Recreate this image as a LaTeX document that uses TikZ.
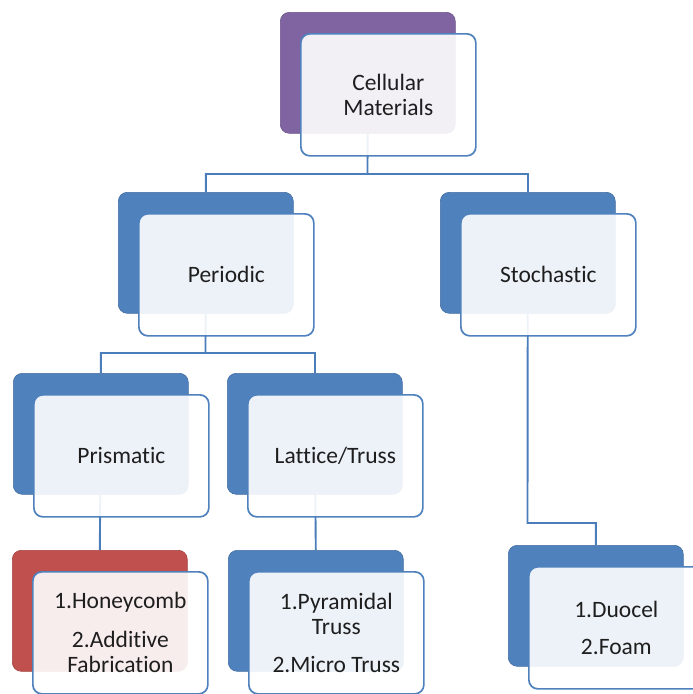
\documentclass[tikz,border=0pt]{standalone}
\usepackage{fontspec}
\setmainfont{Carlito}[Ligatures=NoCommon]
\pgfdeclarelayer{background}
\pgfsetlayers{background,main}
\definecolor{sblue}{HTML}{4F81BD}
\definecolor{spurple}{HTML}{8064A2}
\definecolor{sred}{HTML}{C0504D}
\definecolor{cblue}{HTML}{4A7DBA}
\definecolor{txt}{HTML}{1E1E1E}
\begin{document}
\begin{tikzpicture}[x=1pt,y=-1pt,
  back/.style={draw=#1!85!black, line width=0.6pt, fill=#1, rounded corners=9pt,
    minimum width=175pt, minimum height=121pt, anchor=north west, inner sep=0pt},
  front/.style={draw=sblue, line width=1.7pt, fill=white, fill opacity=0.9, text opacity=1,
    rounded corners=9pt, minimum width=175pt, minimum height=122pt, anchor=north west,
    inner sep=0pt, align=center, font=\fontsize{23.5}{25.5}\selectfont, text=txt},
  conn/.style={draw=cblue, line width=1.9pt}]
\useasboundingbox (0,0) rectangle (693,694);
\clip (0,0) rectangle (693,694);
% back boxes
\node[back=spurple] (cB) at (280,12) {};
\node[back=sblue] (pB) at (118,192) {};
\node[back=sblue] (sB) at (440,192) {};
\node[back=sblue] (prB) at (13,373) {};
\node[back=sblue] (lB) at (227,373) {};
\node[back=sred] (hB) at (12,550) {};
\node[back=sblue] (yB) at (228,550) {};
\node[back=sblue] (dB) at (508,545) {};
% front boxes
\node[front] (cF) at (300,33) {Cellular\\Materials};
\node[front] (pF) at (138,213) {Periodic};
\node[front] (sF) at (460,213) {Stochastic};
\node[front] (prF) at (33,394) {Prismatic};
\node[front] (lF) at (247,394) {Lattice/Truss};
\node[front] (hF) at (32,571) {1.Honeycomb\\[13pt]2.Additive\\Fabrication};
\node[front] (yF) at (248,571) {1.Pyramidal\\Truss\\[12pt]2.Micro Truss};
\node[front] (dF) at (528,566) {1.Duocel\\[12pt]2.Foam};
% connectors
\coordinate (j1) at (367.5,174);
\coordinate (j2) at (205.5,353);
\coordinate (j3) at (527.5,523);
\begin{pgfonlayer}{background}
\draw[conn] (cB.center) -- (j1) -| (pB.north);
\draw[conn] (j1) -| (sB.north);
\draw[conn] (pB.center) -- (j2) -| (prB.north);
\draw[conn] (j2) -| (lB.north);
\draw[conn] (prB.center) -- (hB.north);
\draw[conn] (lB.center) -- (yB.north);
\draw[conn] (sB.center) -- (j3) -| (dB.north);
\end{pgfonlayer}
\end{tikzpicture}
\end{document}
